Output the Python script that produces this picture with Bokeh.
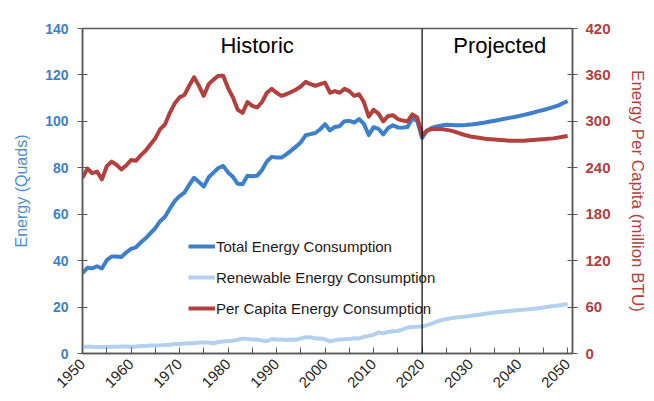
import math
from bokeh.plotting import figure
from bokeh.models import Range1d, LinearAxis, FixedTicker, Legend, LegendItem, Span, Label
from bokeh.embed import file_html
from bokeh.resources import INLINE

years = list(range(1950, 2051))

total_energy = [
    34.6, 36.9, 36.7, 37.6, 36.6, 40.2, 41.8, 41.8, 41.6, 43.5,
    45.1, 45.7, 47.8, 49.6, 51.8, 54.0, 57.0, 58.9, 62.4, 65.6,
    67.8, 69.3, 72.7, 75.7, 73.9, 71.9, 75.9, 77.9, 79.9, 80.8,
    78.0, 76.1, 73.1, 72.9, 76.6, 76.4, 76.6, 79.0, 82.7, 84.7,
    84.4, 84.4, 85.8, 87.4, 89.1, 91.0, 94.0, 94.5, 95.0, 96.6,
    98.8, 96.1, 97.6, 97.9, 100.1, 100.2, 99.5, 101.0, 98.9, 94.1,
    97.5, 96.8, 94.4, 97.1, 98.3, 97.4, 97.3, 97.6, 101.2, 100.2,
    92.9, 96.0, 97.2, 97.8, 98.2, 98.5, 98.4, 98.3, 98.3, 98.4,
    98.6, 98.9, 99.2, 99.5, 99.9, 100.3, 100.7, 101.1, 101.5, 101.9,
    102.3, 102.8, 103.3, 103.8, 104.4, 104.9, 105.5, 106.1, 106.8, 107.8,
    108.7,
]

renewable_energy = [
    2.9, 2.9, 2.9, 2.8, 2.8, 2.8, 2.9, 2.9, 3.0, 3.0,
    2.9, 3.0, 3.2, 3.2, 3.4, 3.4, 3.5, 3.7, 3.8, 4.1,
    4.1, 4.3, 4.4, 4.4, 4.7, 4.7, 4.7, 4.3, 5.0, 5.2,
    5.4, 5.5, 5.9, 6.4, 6.3, 6.0, 6.0, 5.6, 5.3, 6.2,
    6.0, 6.0, 5.8, 6.0, 5.9, 6.5, 7.0, 7.0, 6.5, 6.5,
    6.1, 5.2, 5.7, 6.0, 6.1, 6.2, 6.6, 6.5, 7.2, 7.6,
    8.1, 9.1, 8.7, 9.3, 9.6, 9.7, 10.4, 11.2, 11.4, 11.5,
    11.6, 12.2, 12.9, 13.7, 14.4, 14.9, 15.2, 15.5, 15.7, 15.9,
    16.2, 16.5, 16.8, 17.1, 17.4, 17.7, 17.9, 18.1, 18.3, 18.5,
    18.7, 18.9, 19.1, 19.3, 19.5, 19.8, 20.1, 20.4, 20.7, 21.0,
    21.3,
]

per_capita = [
    227, 239, 233, 235, 225, 242, 248, 244, 238, 243,
    250, 249, 256, 262, 270, 278, 290, 296, 311, 323,
    331, 334, 346, 357, 346, 333, 348, 354, 359, 359,
    343, 331, 315, 311, 325, 320, 318, 325, 337, 342,
    337, 333, 335, 338, 341, 345, 351, 348, 346, 348,
    350, 337, 339, 337, 342, 339, 333, 335, 325, 306,
    315, 310, 300, 307, 308, 303, 301, 300, 309, 305,
    282, 288, 290, 290, 290, 289, 288, 286, 284, 282,
    280.5, 279.5, 278.5, 277.5, 277, 276.5, 276, 275.5, 275, 275,
    275, 275, 275.5, 276, 276.5, 277, 277.5, 278, 279, 280,
    281,
]

x_ticks = [1950, 1960, 1970, 1980, 1990, 2000, 2010, 2020, 2030, 2040, 2050]
x_minor = [1955, 1965, 1975, 1985, 1995, 2005, 2015, 2025, 2035, 2045]
left_ticks = [0, 20, 40, 60, 80, 100, 120, 140]
right_ticks = [0, 60, 120, 180, 240, 300, 360, 420]

FONT = "Liberation Sans"
BLUE = "#3d7fcb"
LIGHT = "#b3d1ef"
RED = "#b2403e"
AXIS = "#595959"

p = figure(width=654, height=401, output_backend="svg", toolbar_location=None,
           x_range=Range1d(1950, 2051), y_range=Range1d(0, 140),
           min_border_left=82, min_border_right=82, min_border_top=28, min_border_bottom=48)
p.extra_y_ranges = {"pc": Range1d(0, 420)}
p.grid.visible = False
p.outline_line_color = AXIS
p.outline_line_width = 1.5
p.background_fill_color = "white"

# bottom axis
xa = p.xaxis[0]
xa.ticker = FixedTicker(ticks=x_ticks, minor_ticks=x_minor)
xa.major_label_orientation = math.pi / 4
xa.major_label_text_font = FONT
xa.major_label_text_font_size = "15px"
xa.major_label_text_color = "#262626"
xa.major_label_standoff = 8
xa.axis_line_color = AXIS
xa.axis_line_width = 1.5
xa.major_tick_line_color = AXIS
xa.minor_tick_line_color = AXIS
xa.major_tick_in = 6
xa.major_tick_out = 0
xa.minor_tick_in = 6
xa.minor_tick_out = 0

# left axis
ya = p.yaxis[0]
ya.ticker = FixedTicker(ticks=left_ticks)
ya.axis_label = "Energy (Quads)"
ya.axis_label_text_font = FONT
ya.axis_label_text_font_size = "16px"
ya.axis_label_text_font_style = "normal"
ya.axis_label_text_color = "#4a8fd8"
ya.axis_label_standoff = 12
ya.major_label_text_font = FONT
ya.major_label_text_font_size = "14px"
ya.major_label_text_font_style = "bold"
ya.major_label_text_color = BLUE
ya.major_label_standoff = 9
ya.axis_line_color = AXIS
ya.axis_line_width = 1.5
ya.major_tick_line_color = AXIS
ya.major_tick_in = 5
ya.major_tick_out = 5
ya.minor_tick_line_color = None

# right axis
ra = LinearAxis(y_range_name="pc", ticker=FixedTicker(ticks=right_ticks))
ra.axis_label = "Energy Per Capita (million BTU)"
ra.axis_label_text_font = FONT
ra.axis_label_text_font_size = "17px"
ra.axis_label_text_font_style = "normal"
ra.axis_label_text_color = RED
ra.axis_label_standoff = 14
ra.major_label_text_font = FONT
ra.major_label_text_font_size = "15px"
ra.major_label_text_font_style = "bold"
ra.major_label_text_color = RED
ra.major_label_standoff = 8
ra.axis_line_color = AXIS
ra.axis_line_width = 1.5
ra.major_tick_line_color = AXIS
ra.major_tick_in = 5
ra.major_tick_out = 5
ra.minor_tick_line_color = None
p.add_layout(ra, "right")

r_ren = p.line(years, renewable_energy, line_color=LIGHT, line_width=4, line_join="round")
r_tot = p.line(years, total_energy, line_color=BLUE, line_width=4, line_join="round")
r_pc = p.line(years, per_capita, line_color=RED, line_width=4, line_join="round", y_range_name="pc")

p.add_layout(Span(location=2020, dimension="height", line_color="black", line_width=1.2))

p.add_layout(Label(x=1986, y=132.5, text="Historic", text_align="center", text_baseline="middle",
                   text_font=FONT, text_font_size="22px", text_color="black"))
p.add_layout(Label(x=2036, y=132.5, text="Projected", text_align="center", text_baseline="middle",
                   text_font=FONT, text_font_size="22px", text_color="black"))

legend = Legend(items=[
    LegendItem(label="Total Energy Consumption", renderers=[r_tot]),
    LegendItem(label="Renewable Energy Consumption", renderers=[r_ren]),
    LegendItem(label="Per Capita Energy Consumption", renderers=[r_pc]),
], location=(106, 35), padding=0, margin=0, spacing=11, glyph_width=27, glyph_height=20,
   label_height=20, label_standoff=1, label_text_font=FONT, label_text_font_size="15px",
   label_text_color="#1a1a1a", border_line_alpha=0, background_fill_alpha=0)
p.add_layout(legend)

open("out.html", "w").write(file_html(p, INLINE))
